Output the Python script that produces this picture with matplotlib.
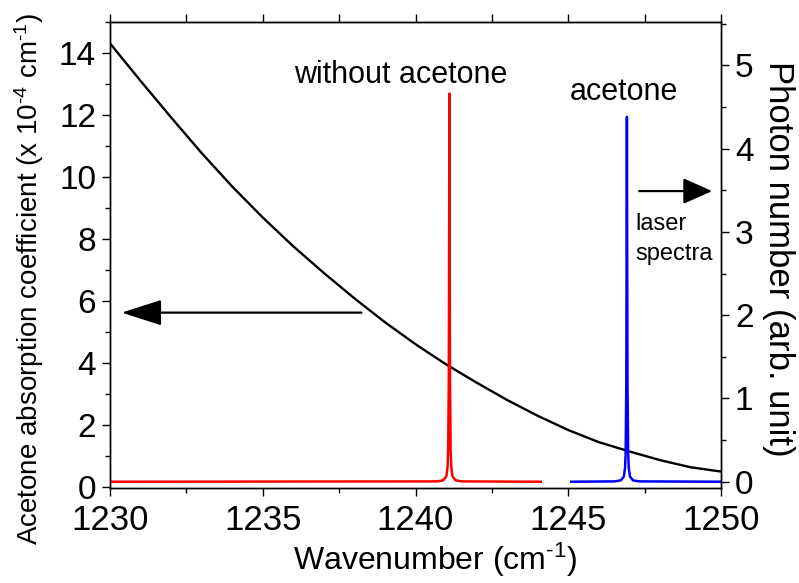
import numpy as np
import matplotlib
matplotlib.use("Agg")
import matplotlib.pyplot as plt
from matplotlib.ticker import MultipleLocator

plt.rcParams['font.family'] = ['Liberation Sans', 'DejaVu Sans']
plt.rcParams['mathtext.fontset'] = 'custom'
plt.rcParams['mathtext.rm'] = 'Liberation Sans'
plt.rcParams['mathtext.it'] = 'Liberation Sans:italic'
plt.rcParams['mathtext.bf'] = 'Liberation Sans:bold'
plt.rcParams['mathtext.default'] = 'regular'

# ---- data ----
wavenumber = [1230, 1231, 1232, 1233, 1234, 1235, 1236, 1237, 1238, 1239, 1240,
              1241, 1242, 1243, 1244, 1245, 1246, 1247, 1248, 1249, 1250]
absorption = [14.31, 13.10, 11.92, 10.77, 9.69, 8.69, 7.76, 6.90, 6.08, 5.31, 4.60,
              3.95, 3.36, 2.80, 2.29, 1.83, 1.44, 1.14, 0.86, 0.63, 0.49]

red_x = [1230.0, 1240.71, 1240.91, 1241.01, 1241.05, 1241.07, 1241.09, 1241.10, 1241.11,
         1241.12, 1241.13, 1241.15, 1241.17, 1241.21, 1241.31, 1241.51, 1244.1]
red_y = [0.0, 0.004, 0.017, 0.066, 0.18, 0.39, 1.23, 2.75, 4.66,
         2.75, 1.23, 0.39, 0.18, 0.066, 0.017, 0.004, 0.0]

blue_x = [1245.1, 1246.52, 1246.72, 1246.82, 1246.86, 1246.88, 1246.90, 1246.91, 1246.92,
          1246.93, 1246.94, 1246.96, 1246.98, 1247.02, 1247.12, 1247.32, 1250.0]
blue_y = [0.0, 0.004, 0.016, 0.062, 0.17, 0.36, 1.16, 2.59, 4.38,
          2.59, 1.16, 0.36, 0.17, 0.062, 0.016, 0.004, 0.0]

x_ticks = [1230, 1235, 1240, 1245, 1250]
top_ticks = [1230, 1232.5, 1235, 1237.5, 1240, 1242.5, 1245, 1247.5, 1250]
left_ticks = [0, 2, 4, 6, 8, 10, 12, 14]
right_ticks = [0, 1, 2, 3, 4, 5]

W, H = 799, 583
fig = plt.figure(figsize=(W / 100, H / 100), dpi=100)
ax = fig.add_axes([110 / W, 1 - 488.3 / H, 611 / W, (488.3 - 22) / H])
ax2 = ax.twinx()

ax.plot(wavenumber, absorption, color='black', lw=1.7, zorder=3)
ax2.plot(red_x, red_y, color='#ff0000', lw=1.8, solid_joinstyle='round')
ax2.plot(blue_x, blue_y, color='#0000ff', lw=1.8, solid_joinstyle='round')

ax.set_xlim(1230, 1250)
ax.set_ylim(-0.05, 15.0)
ax2.set_ylim(-0.079, 5.52)

ax.set_xticks(x_ticks)
ax.xaxis.set_minor_locator(MultipleLocator(2.5))
ax.set_yticks(left_ticks)
ax.yaxis.set_minor_locator(MultipleLocator(1))
ax2.set_yticks(right_ticks)
ax2.yaxis.set_minor_locator(MultipleLocator(0.5))

for a in (ax, ax2):
    a.tick_params(which='major', direction='out', length=6, width=1, labelsize=24, pad=4)
    a.tick_params(which='minor', direction='out', length=3.5, width=1)
    for s in a.spines.values():
        s.set_linewidth(1.0)
ax.tick_params(axis='x', which='major', pad=5, labelsize=25)

sec = ax.secondary_xaxis('top')
sec.set_xticks(top_ticks)
sec.set_xticklabels([])
sec.tick_params(direction='out', length=6, width=1)

# annotations
ax.text(1239.51, 13.03, 'without acetone', ha='center', va='baseline', fontsize=22)
ax.text(1246.83, 12.49, 'acetone', ha='center', va='baseline', fontsize=22)
ax.text(1247.19, 8.29, 'laser', ha='left', va='baseline', fontsize=17)
ax.text(1247.19, 7.32, 'spectra', ha='left', va='baseline', fontsize=17)

ax.annotate('', xy=(1230.38, 5.62), xytext=(1238.23, 5.62),
            arrowprops=dict(arrowstyle='-|>,head_length=2.5,head_width=0.8',
                            mutation_scale=10, lw=1.6, color='black',
                            shrinkA=0, shrinkB=0))
ax2.annotate('', xy=(1249.71, 3.49), xytext=(1247.32, 3.49),
             arrowprops=dict(arrowstyle='-|>,head_length=1.8,head_width=0.8',
                             mutation_scale=10, lw=1.6, color='black',
                             shrinkA=0, shrinkB=0))

# axis labels
fig.text(435 / W, 1 - 570 / H, r'Wavenumber (cm$^{\text{-}1}$)', ha='center', va='baseline',
         fontsize=23)
fig.text(29 / W, 1 - 278.5 / H,
         r'Acetone absorption coefficient (x 10$^{\text{-}4}$ cm$^{\text{-}1}$)',
         rotation=90, ha='center', va='center', fontsize=20)
fig.text(779 / W, 1 - 259 / H, 'Photon number (arb. unit)', rotation=270,
         ha='center', va='center', fontsize=25)

fig.savefig('out.png', dpi=100)
